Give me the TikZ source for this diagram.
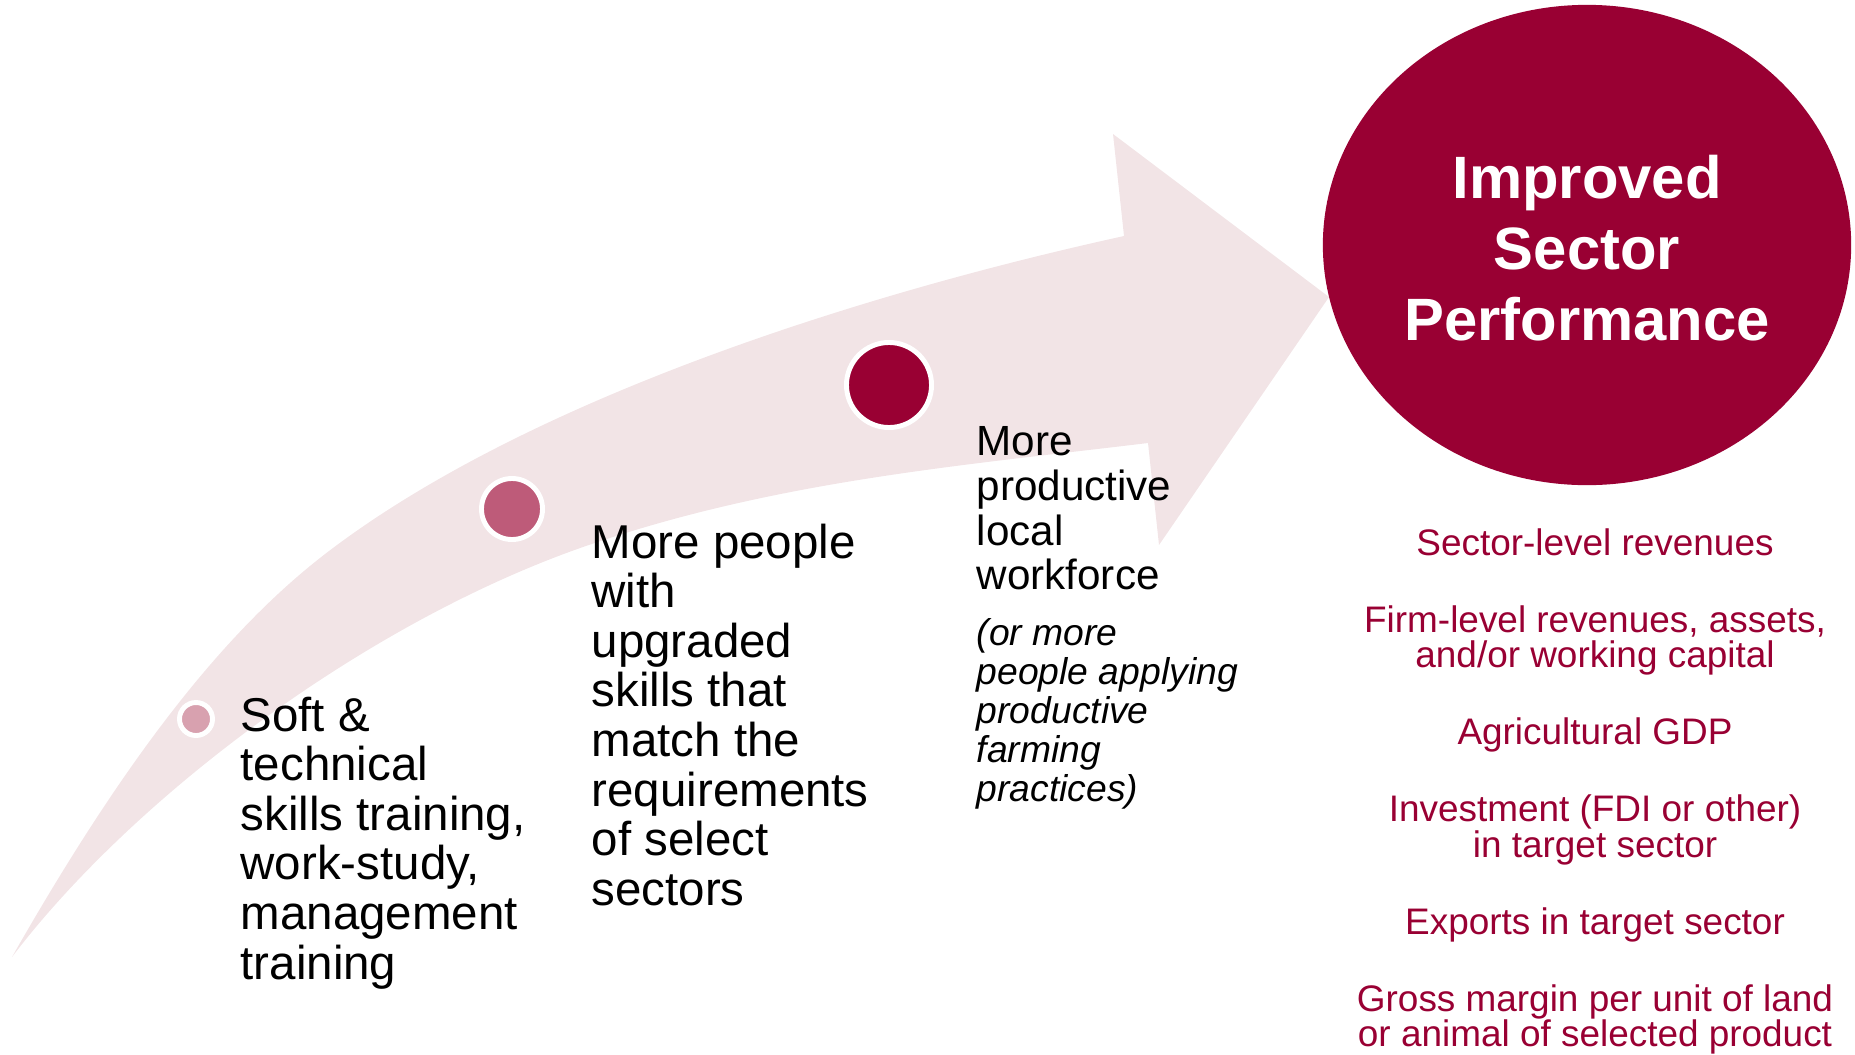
\documentclass[tikz,border=0pt]{standalone}
\usepackage{fontspec}
\setmainfont{Liberation Sans}
\usepackage{tikz}
\usetikzlibrary{shapes.geometric,positioning}
\definecolor{wine}{HTML}{990033}
\definecolor{rose}{HTML}{BE5B79}
\definecolor{blush}{HTML}{D8A1AF}
\definecolor{mist}{HTML}{F2E4E6}

\begin{document}
\begin{tikzpicture}[x=0.01cm,y=-0.01cm,node distance=0.415cm,
  dot node/.style={circle,draw=white,line width=1.4pt,inner sep=0pt},
  step text/.style={anchor=north west,align=left,inner sep=0pt},
  result text/.style={align=center,inner sep=0pt,text=wine,font=\fontsize{10.5}{10}\selectfont}]
    \useasboundingbox (0,0) rectangle (1855,1054);
    % curved arrow: upper edge, head, lower edge back to the tail
    \fill[mist] (12,957) .. controls (122,764) and (223,630) .. (333,548)
      .. controls (533,398) and (860,294) .. (1124,236)
      -- (1113,134) -- (1329,297) -- (1159,545) -- (1148,443)
      .. controls (958,466) and (773,481) .. (583,547)
      .. controls (363,624) and (132,799) .. (12,957) -- cycle;
    \node[dot node,fill=blush,minimum size=0.33cm] (1) at (196,719) {};
    \node[dot node,fill=rose,minimum size=0.61cm] (2) at (512,509) {};
    \node[dot node,fill=wine,minimum size=0.85cm] (3) at (889,385) {};
    \node[ellipse,fill=wine,minimum width=5.28cm,minimum height=4.8cm,inner sep=0pt] (4) at (1587,245) {};
    \node[align=center,inner sep=0pt,text=white,font=\bfseries\fontsize{17}{20.2}\selectfont] (5) at (1587,248) {Improved\\Sector\\Performance};
    \node[step text,font=\fontsize{13.5}{14.1}\selectfont] (6) at (240,696) {Soft \&\\technical\\skills training,\\work-study,\\management\\training};
    \node[step text,font=\fontsize{13.5}{14.1}\selectfont] (7) at (591,523) {More people\\with\\upgraded\\skills that\\match the\\requirements\\of select\\sectors};
    \node[step text,font=\fontsize{12}{12.7}\selectfont] (8) at (976,426) {More\\productive\\local\\workforce};
    \node[step text,font=\itshape\fontsize{10.6}{11.1}\selectfont] (9) at (976,618) {(or more\\people applying\\productive\\farming\\practices)};
    \node[result text,anchor=north] (10) at (1595,528) {Sector-level revenues};
    \node[result text,below=0.48cm of 10] (11) {Firm-level revenues, assets,\\and/or working capital};
    \node[result text,below=of 11] (12) {Agricultural GDP};
    \node[result text,below=of 12] (13) {Investment (FDI or other)\\in target sector};
    \node[result text,below=of 13] (14) {Exports in target sector};
    \node[result text,below=of 14] (15) {Gross margin per unit of land\\or animal of selected product};
\end{tikzpicture}
\end{document}
